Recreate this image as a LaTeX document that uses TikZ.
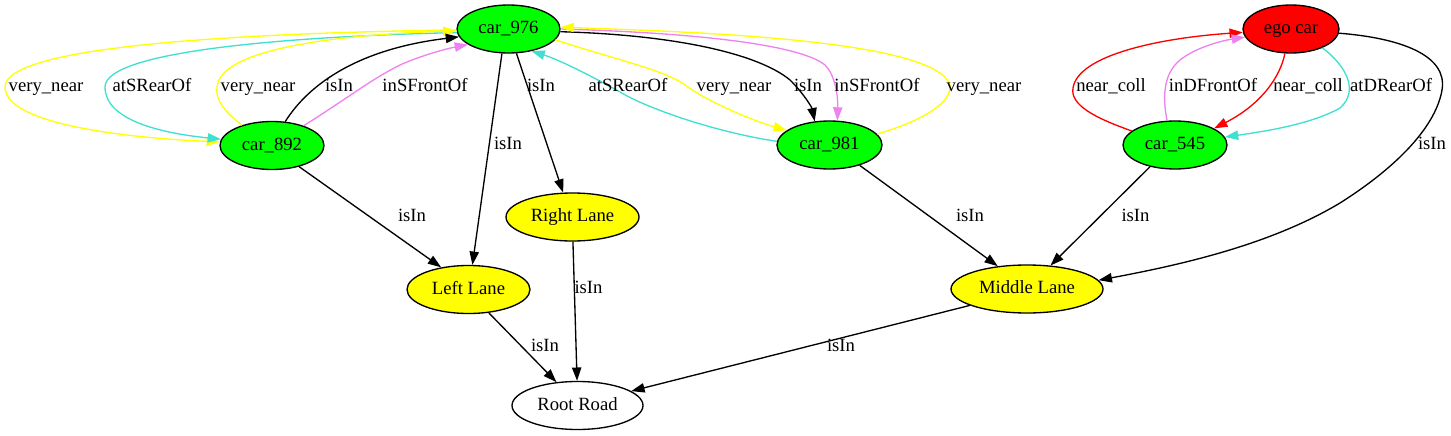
\documentclass[tikz,border=0pt]{standalone}
\usepackage{fontspec}
\setmainfont{Liberation Serif}
\usetikzlibrary{arrows.meta,shapes.geometric}
\definecolor{gvgreen}{HTML}{00FF00}
\definecolor{gvyellow}{HTML}{FFFF00}
\definecolor{gvred}{HTML}{FF0000}
\definecolor{gvviolet}{HTML}{EE82EE}
\definecolor{gvturq}{HTML}{40E0D0}
\begin{document}
\begin{tikzpicture}[x=0.75pt,y=-0.75pt,
  every node/.style={font=\fontsize{14}{16}\selectfont, text height=10pt, text depth=3pt},
  nd/.style={ellipse, draw=black, line width=1pt, minimum height=36pt, inner sep=0pt},
  carnode/.style={nd, fill=gvgreen},
  lanenode/.style={nd, fill=gvyellow},
  egonode/.style={nd, fill=gvred},
  roadnode/.style={nd, fill=white},
  lbl/.style={inner sep=0pt},
  arr/.style={line width=1pt, -{Triangle[length=10pt,width=7pt]}},
]
\useasboundingbox (0,0) rectangle (1451,435);

% nodes
\node[carnode, minimum width=77.25pt] (c976) at (508.5,29) {car\_976};
\node[carnode, minimum width=78pt] (c892) at (272,145.5) {car\_892};
\node[carnode, minimum width=78.75pt] (c981) at (829.5,145) {car\_981};
\node[egonode, minimum width=72pt] (ego) at (1291,29) {ego car};
\node[carnode, minimum width=78pt] (c545) at (1175,145) {car\_545};
\node[lanenode, minimum width=99.75pt] (rl) at (572.5,217) {Right Lane};
\node[lanenode, minimum width=92.25pt] (ll) at (468.5,289.5) {Left Lane};
\node[lanenode, minimum width=114pt] (ml) at (1027,289) {Middle Lane};
\node[roadnode, minimum width=98.25pt] (rr) at (577.5,405.5) {Root Road};

% car_892 <-> car_976
\draw[arr, gvyellow] (c976.181) .. controls (250,33) and (5,45) .. (5,87)
  .. controls (5,125) and (130,138) .. (c892.176);
\draw[arr, gvturq] (c976.184) .. controls (300,36) and (105,50) .. (105,87)
  .. controls (105,120) and (160,133) .. (c892.173);
\draw[arr, gvyellow] (c892.146) .. controls (225,112) and (215,100) .. (217,87)
  .. controls (220,50) and (330,35) .. (c976.182);
\draw[arr, black] (c892.61) .. controls (305,90) and (350,50) .. (c976.189);
\draw[arr, gvviolet] (c892.32) .. controls (345,100) and (370,80) .. (400,65)
  .. controls (420,56) and (445,49) .. (c976.201);

% car_976 <-> car_981
\draw[arr, black] (c976.357) .. controls (680,35) and (760,55) .. (790,80)
  .. controls (805,95) and (812,108) .. (c981.122);
\draw[arr, gvviolet] (c976.0) .. controls (700,33) and (800,45) .. (825,65)
  .. controls (835,75) and (838,95) .. (c981.72);
\draw[arr, gvyellow] (c976.347) .. controls (610,58) and (665,70) .. (685,85)
  .. controls (705,100) and (750,120) .. (c981.161);
\draw[arr, gvturq] (c981.176) .. controls (720,133) and (650,110) .. (620,92)
  .. controls (595,78) and (560,60) .. (c976.316);
\draw[arr, gvyellow] (c981.13) .. controls (925,120) and (952,102) .. (950,85)
  .. controls (935,40) and (700,32) .. (c976.2);

% ego car <-> car_545
\draw[arr, gvred] (c545.162) .. controls (1095,118) and (1070,105) .. (1073,88)
  .. controls (1078,55) and (1160,38) .. (ego.184);
\draw[arr, gvviolet] (c545.108) .. controls (1163,100) and (1162,75) .. (1180,60)
  .. controls (1195,48) and (1220,41) .. (ego.190);
\draw[arr, gvred] (ego.256) .. controls (1280,78) and (1260,105) .. (c545.23);
\draw[arr, gvturq] (ego.329) .. controls (1345,65) and (1360,90) .. (1340,108)
  .. controls (1310,125) and (1260,132) .. (c545.9);
\draw[arr, black] (ego.355) .. controls (1400,38) and (1448,55) .. (1442,90)
  .. controls (1436,125) and (1400,165) .. (1340,203)
  .. controls (1270,245) and (1180,265) .. (ml.7);

% straight edges
\draw[arr] (c976.255) -- (ll.81.5);
\draw[arr] (c976.288) -- (rl.111.6);
\draw[arr] (c892.322.5) -- (ll.141.7);
\draw[arr] (c981.326.3) -- (ml.142.8);
\draw[arr] (c545.221) -- (ml.45);
\draw[arr] (ll.311) -- (rr.132.5);
\draw[arr] (rl.271) -- (rr.91);
\draw[arr] (ml.196) -- (rr.15.4);

% labels
\node[lbl] (t1) at (46,87) {very\_near};
\node[lbl] (t2) at (152,87) {atSRearOf};
\node[lbl] (t3) at (258,87) {very\_near};
\node[lbl] (t4) at (339,87) {isIn};
\node[lbl] (t5) at (425,87) {inSFrontOf};
\node[lbl] (t6) at (541,87) {isIn};
\node[lbl] (t7) at (628,87) {atSRearOf};
\node[lbl] (t8) at (734,87) {very\_near};
\node[lbl] (t9) at (808,87) {isIn};
\node[lbl] (t10) at (877,87) {inSFrontOf};
\node[lbl] (t11) at (984,87) {very\_near};
\node[lbl] (t12) at (1111,87) {near\_coll};
\node[lbl] (t13) at (1213,87) {inDFrontOf};
\node[lbl] (t14) at (1308,87) {near\_coll};
\node[lbl] (t15) at (1391,87) {atDRearOf};
\node[lbl] (t16) at (1432,145) {isIn};
\node[lbl] (t17) at (508,145) {isIn};
\node[lbl] (t18) at (412,217) {isIn};
\node[lbl] (t19) at (970,217) {isIn};
\node[lbl] (t20) at (1135.5,217) {isIn};
\node[lbl] (t21) at (588.5,288.5) {isIn};
\node[lbl] (t22) at (545,347) {isIn};
\node[lbl] (t23) at (841,347) {isIn};
\end{tikzpicture}
\end{document}
